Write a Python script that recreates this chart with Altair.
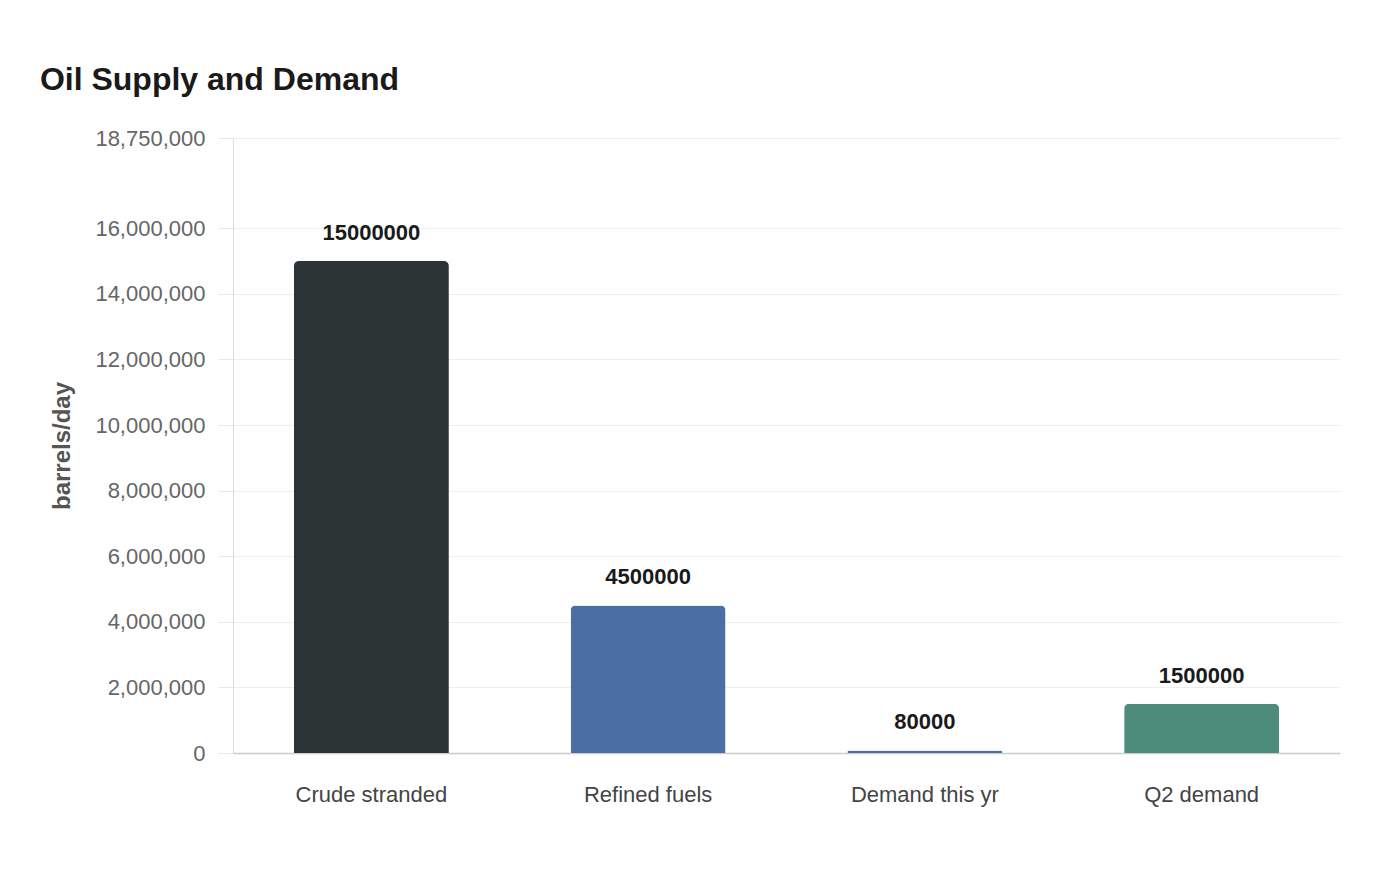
import pandas as pd
import altair as alt

# Dados do gráfico
categorias = ["Crude stranded", "Refined fuels", "Demand this yr", "Q2 demand"]
valores = [15000000, 4500000, 80000, 1500000]
cores = ["#2d3436", "#4a6fa5", "#4a6fa5", "#4d8b7a"]
ticks_y = [0, 2000000, 4000000, 6000000, 8000000, 10000000, 12000000,
           14000000, 16000000, 18750000]

df = pd.DataFrame({"categoria": categorias, "valor": valores})

fonte = "Liberation Sans"

base = alt.Chart(df).encode(
    x=alt.X(
        "categoria:N",
        sort=categorias,
        title=None,
        scale=alt.Scale(paddingInner=0.44, paddingOuter=0.22),
        axis=alt.Axis(
            labelAngle=0, labelFontSize=22, labelColor="#444444", labelFont=fonte,
            ticks=False, labelPadding=31, domainColor="#cccccc", domainWidth=1.5,
            grid=False,
        ),
    ),
    y=alt.Y(
        "valor:Q",
        title="barrels/day",
        scale=alt.Scale(domain=[0, 18750000], nice=False),
        axis=alt.Axis(
            values=ticks_y, format=",d", labelFontSize=22, labelColor="#666666",
            labelFont=fonte, tickSize=15, tickColor="#e8e8e8", labelPadding=13,
            domainColor="#dddddd", gridColor="#eeeeee", titleFontSize=24,
            titleFont=fonte, titleColor="#555555", titleFontWeight="bold",
            titlePadding=20,
        ),
    ),
)

barras = base.mark_bar(cornerRadiusTopLeft=5, cornerRadiusTopRight=5).encode(
    color=alt.Color("categoria:N", scale=alt.Scale(domain=categorias, range=cores),
                    legend=None)
)

rotulos = base.mark_text(
    font=fonte, fontSize=22, fontWeight="bold", color="#1a1a1a",
    baseline="bottom", dy=-16,
).encode(text=alt.Text("valor:Q", format="d"))

chart = (barras + rotulos).properties(
    width=1107,
    height=615,
    background="white",
    autosize=alt.AutoSizeParams(type="none"),
    padding={"left": 225, "top": 130, "right": 52, "bottom": 119},
    title=alt.TitleParams(
        "Oil Supply and Demand", anchor="start", font=fonte, fontSize=32,
        fontWeight="bold", color="#1a1a1a", dx=-11, offset=30,
    ),
).configure_view(strokeWidth=0)

chart.save("out.html", embed_options={"renderer": "svg", "actions": False})
